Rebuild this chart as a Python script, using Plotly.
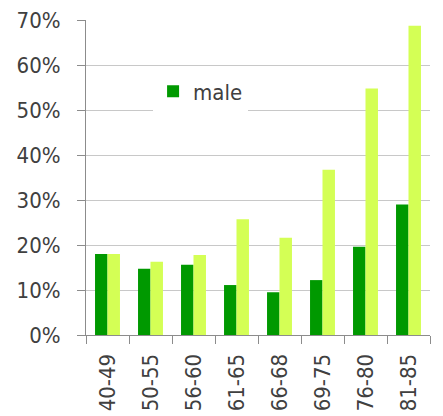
import plotly.graph_objects as go

categories = ["40-49", "50-55", "56-60", "61-65", "66-68", "69-75", "76-80", "81-85"]
male = [0.180, 0.147, 0.156, 0.111, 0.095, 0.122, 0.196, 0.290]
female = [0.180, 0.163, 0.178, 0.257, 0.216, 0.367, 0.548, 0.687]
y_ticks = [0, 0.1, 0.2, 0.3, 0.4, 0.5, 0.6, 0.7]
y_tick_labels = ["0%", "10%", "20%", "30%", "40%", "50%", "60%", "70%"]

font_family = "DejaVu Sans Condensed, DejaVu Sans"
text_color = "#404040"

fig = go.Figure()
fig.add_trace(go.Bar(x=categories, y=male, name="male",
                     marker=dict(color="#009900", line=dict(width=0))))
fig.add_trace(go.Bar(x=categories, y=female, name="female", showlegend=False,
                     marker=dict(color="#D4FF55", line=dict(width=0))))

fig.update_layout(
    width=443, height=416,
    margin=dict(l=86, r=13, t=20, b=81),
    paper_bgcolor="white", plot_bgcolor="white",
    barmode="group", bargap=0.42, bargroupgap=0,
    font=dict(family=font_family, size=22, color=text_color),
    showlegend=True,
    legend=dict(x=0.195, y=0.84, xanchor="left", yanchor="top",
                bgcolor="white", borderwidth=0,
                font=dict(family=font_family, size=22, color=text_color),
                itemwidth=30, tracegroupgap=0),
)
fig.update_xaxes(
    automargin=False,
    showline=True, linecolor="#8c8c8c", linewidth=1,
    ticks="outside", ticklen=8, tickcolor="#8c8c8c", tickson="boundaries",
    tickangle=-90, showgrid=False, ticklabelstandoff=9,
    tickfont=dict(family=font_family, size=22, color=text_color),
)
fig.update_yaxes(
    automargin=False,
    range=[0, 0.7], tickvals=y_ticks, ticktext=y_tick_labels,
    showline=True, linecolor="#8c8c8c", linewidth=1,
    ticks="outside", ticklen=8, tickcolor="#8c8c8c",
    showgrid=True, gridcolor="#c8c8c8", gridwidth=1,
    zeroline=False, ticklabelstandoff=12,
    tickfont=dict(family=font_family, size=22, color=text_color),
)

fig.write_html("out.html", config={"displayModeBar": False},
               post_script="document.body.style.margin='0';")
